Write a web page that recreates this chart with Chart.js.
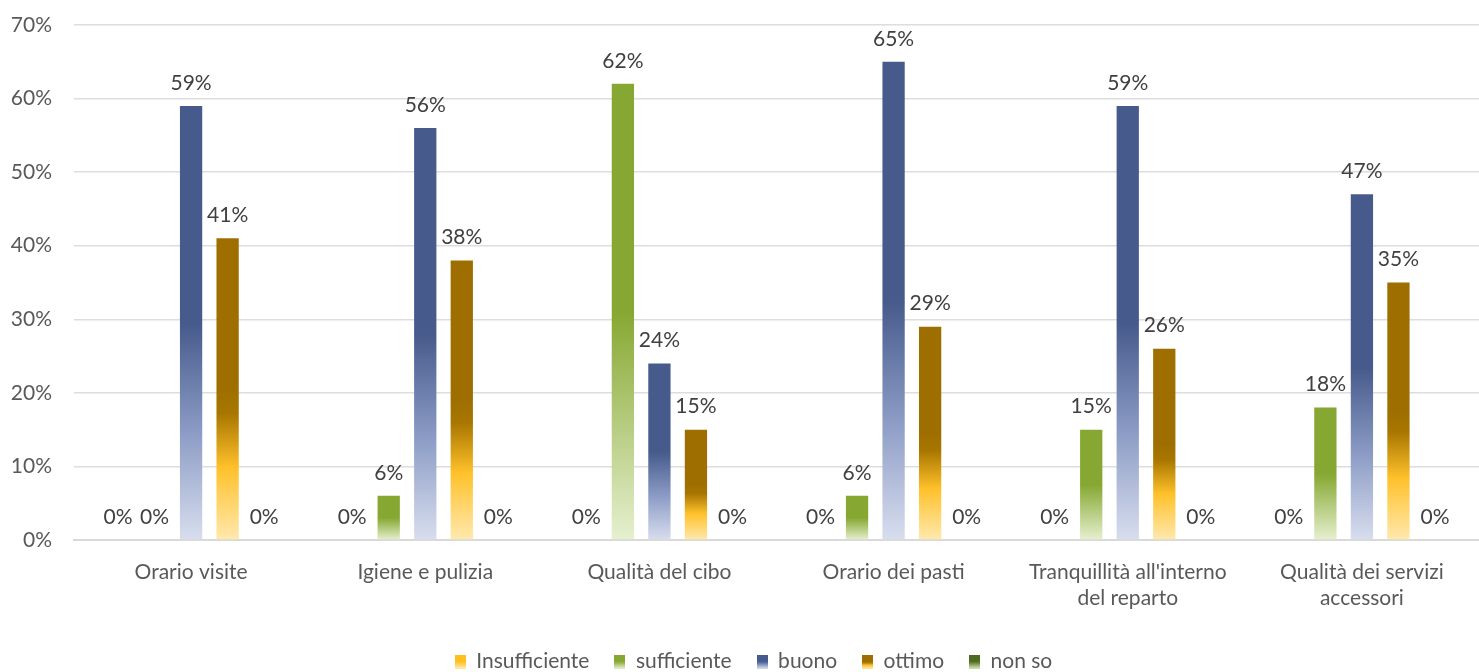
<!DOCTYPE html>
<html>
<head>
<meta charset="utf-8">
<script src="https://cdn.jsdelivr.net/npm/chart.js@4.4.1/dist/chart.umd.min.js"></script>
<style>
  html, body { margin: 0; padding: 0; background: #fff; }
  #wrap { width: 1479px; height: 672px; position: relative; }
</style>
</head>
<body>
<div id="wrap"><canvas id="chart"></canvas></div>
<script>
// categories and series values (percent)
const categories = [
  'Orario visite',
  'Igiene e pulizia',
  'Qualità del cibo',
  'Orario dei pasti',
  ["Tranquillità all'interno", 'del reparto'],
  ['Qualità dei servizi', 'accessori']
];
const seriesNames = ['Insufficiente', 'sufficiente', 'buono', 'ottimo', 'non so'];
const insufficiente = [0, 0, 0, 0, 0, 0];
const sufficiente = [0, 6, 62, 6, 15, 18];
const buono = [59, 56, 24, 65, 59, 47];
const ottimo = [41, 38, 15, 29, 26, 35];
const nonSo = [0, 0, 0, 0, 0, 0];
const yTicks = [0, 10, 20, 30, 40, 50, 60, 70];

const FONT = 'Lato, "Open Sans", sans-serif';

// gradient stops per series (top -> bottom)
const gradStops = [
  [[0, '#FFBF1F'], [0.5, '#FFBF1F'], [1, '#FFEBB0']],
  [[0, '#86A832'], [0.5, '#86A832'], [1, '#E6F0CF']],
  [[0, '#465A8B'], [0.5, '#465A8B'], [0.75, '#8B9BC5'], [1, '#D8DEEE']],
  [[0, '#9E6F00'], [0.5, '#9E6F00'], [0.58, '#A87600'], [0.76, '#FFC12B'], [1, '#FFE9AE']],
  [[0, '#4E6B1F'], [0.5, '#4E6B1F'], [1, '#D5E3B5']]
];

function barGradient(idx) {
  return function (context) {
    const chart = context.chart;
    const stops = gradStops[idx];
    if (!chart.chartArea || context.type !== 'data') return stops[0][1];
    const y = chart.scales.y;
    const top = y.getPixelForValue(context.raw);
    const base = y.getPixelForValue(0);
    if (base - top < 1) return stops[0][1];
    const g = chart.ctx.createLinearGradient(0, top, 0, base);
    stops.forEach(s => g.addColorStop(s[0], s[1]));
    return g;
  };
}

// small gradient swatches for the legend
function swatch(idx) {
  const c = document.createElement('canvas');
  c.width = 11; c.height = 14;
  const ctx = c.getContext('2d');
  const g = ctx.createLinearGradient(0, 0, 0, 14);
  gradStops[idx].forEach(s => g.addColorStop(s[0], s[1]));
  ctx.fillStyle = g;
  ctx.fillRect(0, 0, 11, 14);
  return c;
}

const values = [insufficiente, sufficiente, buono, ottimo, nonSo];
const datasets = seriesNames.map((name, i) => ({
  label: name,
  data: values[i],
  backgroundColor: barGradient(i),
  borderWidth: 0,
  categoryPercentage: 0.78,
  barPercentage: 0.61
}));

// value labels above the bars
const valueLabels = {
  id: 'valueLabels',
  afterDatasetsDraw(chart) {
    const ctx = chart.ctx;
    ctx.save();
    ctx.font = '21px ' + FONT;
    ctx.fillStyle = '#404040';
    ctx.textAlign = 'center';
    ctx.textBaseline = 'middle';
    chart.data.datasets.forEach((ds, i) => {
      const meta = chart.getDatasetMeta(i);
      meta.data.forEach((bar, j) => {
        ctx.fillText(ds.data[j] + '%', bar.x, bar.y - 23);
      });
    });
    ctx.restore();
  }
};

// push the legend row down near the bottom edge
const legendPlace = {
  id: 'legendPlace',
  afterLayout(chart) {
    chart.legend.top = chart.height - 46;
    chart.legend.left += 28;
  }
};

new Chart(document.getElementById('chart'), {
  type: 'bar',
  data: { labels: categories, datasets: datasets },
  plugins: [valueLabels, legendPlace],
  options: {
    responsive: true,
    maintainAspectRatio: false,
    animation: false,
    layout: { padding: { top: 25, right: 0, left: 0, bottom: 0 } },
    plugins: {
      tooltip: { enabled: false },
      legend: {
        position: 'bottom',
        labels: {
          font: { family: FONT, size: 21 },
          color: '#595959',
          usePointStyle: true,
          pointStyleWidth: 11,
          padding: 25,
          generateLabels(chart) {
            return chart.data.datasets.map((ds, i) => ({
              text: ds.label,
              pointStyle: swatch(i),
              fillStyle: gradStops[i][0][1],
              strokeStyle: 'transparent',
              lineWidth: 0,
              fontColor: '#595959',
              datasetIndex: i
            }));
          }
        }
      }
    },
    scales: {
      x: {
        grid: { display: false },
        border: { display: true, color: '#D9D9D9', width: 2 },
        afterFit(axis) { axis.height = 132 - axis.chart.legend.height; },
        ticks: {
          font: { family: FONT, size: 21, lineHeight: 1.25 },
          color: '#595959',
          padding: 11,
          maxRotation: 0
        }
      },
      y: {
        min: 0,
        max: 70,
        afterBuildTicks(axis) { axis.ticks = yTicks.map(v => ({ value: v })); },
        afterFit(axis) { axis.width = 74; axis.paddingTop = 0; },
        grid: { color: '#DDDDDD', lineWidth: 1.5, drawTicks: false },
        border: { display: false },
        ticks: {
          font: { family: FONT, size: 21 },
          color: '#595959',
          padding: 22,
          callback: v => v + '%'
        }
      }
    }
  }
});
</script>
</body>
</html>
